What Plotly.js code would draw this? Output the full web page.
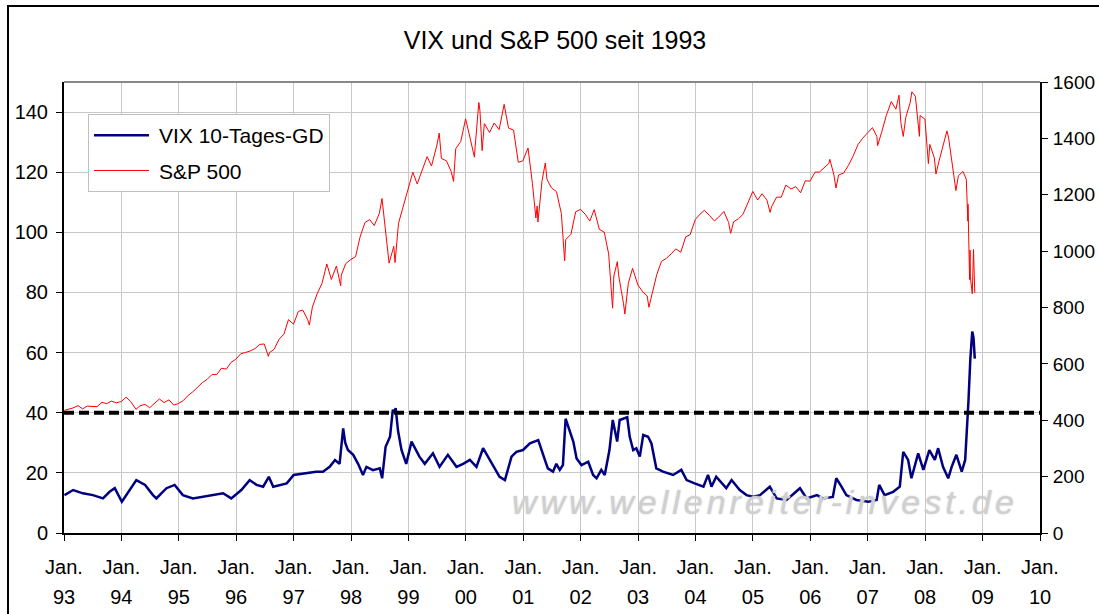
<!DOCTYPE html>
<html><head><meta charset="utf-8">
<script src="https://cdn.plot.ly/plotly-3.0.1.min.js"></script>
<style>
html,body{margin:0;padding:0;background:#fff;overflow:hidden}
#frame{position:absolute;left:7px;top:5px;width:1200px;height:700px;border:2px solid #000;box-sizing:border-box}
#chart{position:absolute;left:0;top:0;width:1099px;height:614px}
.annotation-text{letter-spacing:4px}
</style></head><body>
<div id="frame"></div><div id="chart"></div>
<script>
const titleText = 'VIX und S&P 500 seit 1993';
const vixName = 'VIX 10-Tages-GD';
const spName = 'S&P 500';
const threshold = 40;
const yearLabels = ['93','94','95','96','97','98','99','00','01','02','03','04','05','06','07','08','09','10'];
const leftTicks = [0,20,40,60,80,100,120,140];
const rightTicks = [0,200,400,600,800,1000,1200,1400,1600];

const spDates = [
'1993-01-04','1993-01-29','1993-02-26','1993-03-31','1993-04-30','1993-05-28','1993-06-30','1993-07-30','1993-08-31','1993-09-30','1993-10-29','1993-11-30','1993-12-31',
'1994-01-31','1994-02-28','1994-03-31','1994-04-04','1994-04-29','1994-05-31','1994-06-30','1994-07-29','1994-08-31','1994-09-30','1994-10-31','1994-11-30','1994-12-30',
'1995-01-31','1995-02-28','1995-03-31','1995-04-28','1995-05-31','1995-06-30','1995-07-31','1995-08-31','1995-09-29','1995-10-31','1995-11-30','1995-12-29',
'1996-01-31','1996-02-29','1996-03-29','1996-04-30','1996-05-31','1996-06-28','1996-07-24','1996-07-31','1996-08-30','1996-09-30','1996-10-31','1996-11-29','1996-12-31',
'1997-01-31','1997-02-28','1997-03-31','1997-04-11','1997-04-30','1997-05-30','1997-06-30','1997-07-31','1997-08-29','1997-09-30','1997-10-27','1997-10-31','1997-11-28','1997-12-31',
'1998-01-30','1998-02-27','1998-03-31','1998-04-30','1998-05-29','1998-06-30','1998-07-17','1998-07-31','1998-08-31','1998-09-30','1998-10-08','1998-10-30','1998-11-30','1998-12-31',
'1999-01-29','1999-02-26','1999-03-31','1999-04-30','1999-05-28','1999-06-30','1999-07-16','1999-07-30','1999-08-31','1999-09-30','1999-10-15','1999-10-29','1999-11-30','1999-12-31',
'2000-01-31','2000-02-25','2000-02-29','2000-03-24','2000-03-31','2000-04-14','2000-04-28','2000-05-31','2000-06-30','2000-07-31','2000-08-31','2000-09-01','2000-09-29','2000-10-31','2000-11-30','2000-12-29',
'2001-01-31','2001-02-28','2001-03-22','2001-03-30','2001-04-04','2001-04-30','2001-05-21','2001-05-31','2001-06-29','2001-07-31','2001-08-31','2001-09-21','2001-09-28','2001-10-31','2001-11-30','2001-12-31',
'2002-01-31','2002-02-28','2002-03-28','2002-04-30','2002-05-31','2002-06-28','2002-07-23','2002-07-31','2002-08-22','2002-08-30','2002-09-30','2002-10-09','2002-10-31','2002-11-27','2002-12-31',
'2003-01-31','2003-02-28','2003-03-11','2003-03-31','2003-04-30','2003-05-30','2003-06-30','2003-07-31','2003-08-29','2003-09-30','2003-10-31','2003-11-28','2003-12-31',
'2004-01-30','2004-02-27','2004-03-31','2004-04-30','2004-05-28','2004-06-30','2004-07-30','2004-08-12','2004-08-31','2004-09-30','2004-10-29','2004-11-30','2004-12-31',
'2005-01-31','2005-02-28','2005-03-31','2005-04-20','2005-04-29','2005-05-31','2005-06-30','2005-07-29','2005-08-31','2005-09-30','2005-10-31','2005-11-30','2005-12-30',
'2006-01-31','2006-02-28','2006-03-31','2006-04-28','2006-05-05','2006-05-31','2006-06-13','2006-06-30','2006-07-31','2006-08-31','2006-09-29','2006-10-31','2006-11-30','2006-12-29',
'2007-01-31','2007-02-28','2007-03-05','2007-03-30','2007-04-30','2007-05-31','2007-06-29','2007-07-19','2007-07-31','2007-08-15','2007-08-31','2007-09-28','2007-10-09','2007-10-31','2007-11-26','2007-11-30','2007-12-31',
'2008-01-22','2008-01-31','2008-02-29','2008-03-10','2008-03-31','2008-04-30','2008-05-19','2008-05-30','2008-06-30','2008-07-15','2008-07-31','2008-08-29','2008-09-19','2008-09-29','2008-09-30','2008-10-06','2008-10-10','2008-10-13','2008-10-15','2008-10-27','2008-11-04','2008-11-12'
];
const spValues = [
435.4,438.8,443.4,451.7,440.2,450.2,450.5,448.1,463.6,458.9,467.8,461.8,466.5,
481.6,467.1,445.8,438.9,450.9,456.5,444.3,458.3,475.5,462.7,472.4,453.7,459.3,
470.4,487.4,500.7,514.7,533.4,544.8,562.1,561.9,584.4,581.5,605.4,615.9,
636.0,640.4,645.5,654.2,669.1,670.6,626.7,639.9,651.9,687.3,705.3,757.0,740.7,
786.2,790.8,757.1,737.7,801.3,848.3,885.1,954.3,899.5,947.3,877.0,914.6,955.4,970.4,
980.3,1049.3,1101.8,1111.8,1090.8,1133.8,1186.8,1120.7,957.3,1017.0,959.4,1098.7,1163.6,1229.2,
1279.6,1238.3,1286.4,1335.2,1301.8,1372.7,1418.8,1328.7,1320.4,1282.7,1247.4,1362.9,1388.9,1469.3,
1394.5,1333.4,1366.4,1527.5,1498.6,1356.6,1452.4,1420.6,1454.6,1430.8,1517.7,1520.8,1436.5,1429.4,1315.2,1320.3,
1366.0,1239.9,1117.6,1160.3,1103.3,1249.5,1312.8,1255.8,1224.4,1211.2,1133.6,965.8,1040.9,1059.8,1139.5,1148.1,
1130.2,1106.7,1147.4,1076.9,1067.1,989.8,797.7,911.6,962.7,916.1,815.3,776.8,885.8,938.9,879.8,
855.7,841.2,800.7,848.2,916.9,963.6,974.5,990.3,1008.0,996.0,1050.7,1058.2,1111.9,
1131.1,1144.9,1126.2,1107.3,1120.7,1140.8,1101.7,1063.2,1104.2,1114.6,1130.2,1173.8,1211.9,
1181.3,1203.6,1180.6,1137.5,1156.9,1191.5,1191.3,1234.2,1220.3,1228.8,1207.0,1249.5,1248.3,
1280.1,1280.7,1294.9,1310.6,1325.8,1270.1,1223.7,1270.2,1276.7,1303.8,1335.9,1377.9,1400.6,1418.3,
1438.2,1406.8,1374.1,1420.9,1482.4,1530.6,1503.4,1553.1,1455.3,1406.7,1474.0,1526.8,1565.2,1549.4,1407.2,1481.1,1468.4,
1310.5,1378.6,1330.6,1273.4,1322.7,1385.6,1426.6,1400.4,1280.0,1214.9,1267.4,1282.8,1255.1,1106.4,1166.4,1056.9,899.2,1003.4,907.8,848.9,1005.8,852.3
];

const vixDates = [
'1993-01-04','1993-02-28','1993-05-01','1993-07-04','1993-09-06','1993-10-18','1993-11-20',
'1994-01-04','1994-04-06','1994-06-01','1994-07-21','1994-08-12','1994-09-12','1994-10-15','1994-12-06',
'1995-01-27','1995-04-01','1995-06-04','1995-08-06','1995-10-10','1995-12-01',
'1996-02-03','1996-03-27','1996-05-10','1996-06-21','1996-07-27','1996-08-24','1996-10-06','1996-11-18',
'1997-01-01','1997-03-21','1997-05-24','1997-07-06','1997-08-18','1997-09-21','1997-10-20','1997-11-12','1997-11-25','1997-12-12',
'1998-01-15','1998-02-15','1998-03-18','1998-04-09','1998-05-21','1998-07-03','1998-07-18','1998-08-09','1998-09-06','1998-09-24','1998-10-03','1998-10-12','1998-10-27','1998-11-18','1998-12-18',
'1999-01-21','1999-02-21','1999-03-12','1999-04-15','1999-06-06','1999-07-18','1999-09-09','1999-11-03','1999-12-15',
'2000-01-27','2000-03-09','2000-04-20','2000-06-24','2000-08-03','2000-09-06','2000-10-18','2000-11-18','2000-12-30',
'2001-02-12','2001-04-06','2001-05-15','2001-06-06','2001-07-09','2001-07-30','2001-08-21','2001-09-10','2001-09-27','2001-10-24','2001-11-15','2001-12-06',
'2002-01-06','2002-02-18','2002-03-21','2002-04-12','2002-05-12','2002-06-03','2002-07-03','2002-07-24','2002-08-21','2002-09-06','2002-10-09','2002-10-24','2002-11-09','2002-12-01','2002-12-21',
'2003-01-12','2003-02-03','2003-03-06','2003-03-27','2003-04-27','2003-06-09','2003-08-12','2003-10-03','2003-11-06','2003-12-27',
'2004-02-21','2004-03-21','2004-04-12','2004-05-12','2004-07-15','2004-08-18','2004-10-09','2004-11-21',
'2005-01-01','2005-02-15','2005-04-18','2005-06-01','2005-08-03','2005-10-27','2005-12-09',
'2006-02-12','2006-03-21','2006-05-24','2006-06-15','2006-07-18','2006-08-18','2006-10-21',
'2007-01-06','2007-02-27','2007-03-15','2007-04-18','2007-06-12','2007-07-24','2007-08-15','2007-09-15','2007-10-06','2007-11-18','2007-12-21',
'2008-01-28','2008-03-03','2008-03-24','2008-04-24','2008-05-27','2008-06-18','2008-07-18','2008-08-21','2008-09-12','2008-09-21','2008-10-03','2008-10-15','2008-10-27','2008-11-04','2008-11-12'
];
const vixValues = [
12.6,14.3,13.2,12.6,11.5,13.7,14.9,
10.4,17.6,16.0,12.6,11.5,13.2,14.9,16.0,
12.6,11.5,12.0,12.6,13.2,11.5,
14.3,17.6,16.0,15.4,18.7,15.4,16.0,16.5,
19.3,19.8,20.4,20.4,22.0,24.3,23.0,34.8,30.0,27.6,
26.0,23.0,19.3,22.0,20.9,21.5,18.2,28.7,32.0,41.0,40.0,41.5,34.0,27.6,23.0,
30.4,27.6,25.4,23.0,26.5,22.0,26.0,22.0,23.0,
24.3,22.0,28.2,22.0,18.7,17.6,25.4,27.0,27.6,
29.8,30.9,24.8,21.5,20.4,23.0,21.0,22.6,38.0,33.7,30.4,24.8,
22.6,23.7,19.3,18.2,21.0,19.3,27.6,37.6,30.4,37.6,38.1,38.5,32.0,27.6,28.2,
25.4,32.6,32.0,29.8,21.5,20.4,19.3,21.0,17.6,16.5,
15.4,19.3,15.4,18.7,14.9,17.6,14.3,12.6,
12.1,12.6,15.4,11.5,11.0,14.9,11.5,
12.6,11.5,12.0,18.2,15.4,12.6,11.0,
10.4,11.0,16.0,12.6,13.7,15.4,27.0,24.3,18.2,26.5,21.0,
27.6,24.3,28.2,22.0,18.2,22.0,26.0,20.4,24.3,32.0,44.0,58.0,67.0,65.0,58.0
];

const tickDates = yearLabels.map((y, i) => (1993 + i) + '-01-01');
const xRange = ['1993-01-01', '2010-01-01'];
const fontFam = '"Liberation Sans", Arial, sans-serif';

const traces = [
  {x: vixDates, y: vixValues, name: vixName, type: 'scatter', mode: 'lines',
   line: {color: '#000080', width: 2.5}, xaxis: 'x', yaxis: 'y', legendgroup: 'a'},
  {x: spDates, y: spValues, name: spName, type: 'scatter', mode: 'lines',
   line: {color: '#ff0000', width: 1}, xaxis: 'x', yaxis: 'y2', legendgroup: 'b'},
  {x: xRange, y: [null, null], type: 'scatter', mode: 'lines', xaxis: 'x2', yaxis: 'y',
   showlegend: false, hoverinfo: 'skip'}
];

const layout = {
  width: 1099, height: 614,
  margin: {l: 64, r: 59, t: 82, b: 81, pad: 0},
  paper_bgcolor: 'rgba(0,0,0,0)', plot_bgcolor: '#ffffff',
  font: {family: fontFam, color: '#000', size: 20},
  title: {text: titleText, x: 0.505, xanchor: 'center', y: 0.935, yanchor: 'middle',
          font: {family: fontFam, size: 25, color: '#000'}},
  showlegend: true,
  legend: {x: 0.0246, y: 0.929, xanchor: 'left', yanchor: 'top', bgcolor: '#fff',
           bordercolor: '#c0c0c0', borderwidth: 1, font: {size: 21, family: fontFam},
           traceorder: 'grouped', tracegroupgap: 5, itemwidth: 60},
  xaxis: {type: 'date', range: xRange, tickmode: 'array', tickvals: tickDates,
          ticktext: yearLabels.map(() => 'Jan.'), ticks: 'outside', ticklen: 6, tickwidth: 1,
          tickcolor: '#000', showline: true, linecolor: '#000', linewidth: 2,
          showgrid: true, gridcolor: '#c8c8c8', gridwidth: 1, zeroline: false,
          ticklabelstandoff: 9, tickfont: {size: 20}},
  xaxis2: {type: 'date', range: xRange, overlaying: 'x', anchor: 'y', side: 'bottom',
           tickmode: 'array', tickvals: tickDates, ticktext: yearLabels, ticks: '',
           showline: false, showgrid: false, zeroline: false, ticklabelstandoff: 50,
           tickfont: {size: 20}},
  yaxis: {range: [0, 150], tickmode: 'array', tickvals: leftTicks, ticks: 'outside',
          ticklen: 6, tickcolor: '#000', showline: true, linecolor: '#000', linewidth: 2,
          showgrid: true, gridcolor: '#c8c8c8', gridwidth: 1, zeroline: false,
          ticklabelstandoff: 4, tickfont: {size: 20}},
  yaxis2: {range: [0, 1600], overlaying: 'y', side: 'right', tickmode: 'array',
           tickvals: rightTicks, ticks: 'outside', ticklen: 6, tickcolor: '#000',
           showline: true, linecolor: '#000', linewidth: 2, showgrid: false, zeroline: false,
           ticklabelstandoff: 1, tickfont: {size: 19}},
  shapes: [
    {type: 'line', xref: 'paper', yref: 'paper', x0: 0, x1: 1, y0: 1, y1: 1,
     line: {color: '#888', width: 2}},
    {type: 'line', xref: 'paper', yref: 'y', x0: 0, x1: 1, y0: threshold, y1: threshold,
     line: {color: '#000', width: 4, dash: '10px,5px'}}
  ],
  annotations: [
    {text: 'www.wellenreiter-invest.de', xref: 'paper', yref: 'paper', x: 0.718, y: 0.069,
     showarrow: false, xanchor: 'center', yanchor: 'middle',
     font: {family: fontFam, size: 34, color: '#cfcfcf', style: 'italic', shadow: '0 0 2px #cfcfcf'}}
  ]
};

Plotly.newPlot('chart', traces, layout, {displayModeBar: false, staticPlot: true}).then(gd => {
  gd.querySelectorAll('.legend .js-line').forEach(p => p.setAttribute('d', 'M5,0h55'));
});
</script></body></html>
